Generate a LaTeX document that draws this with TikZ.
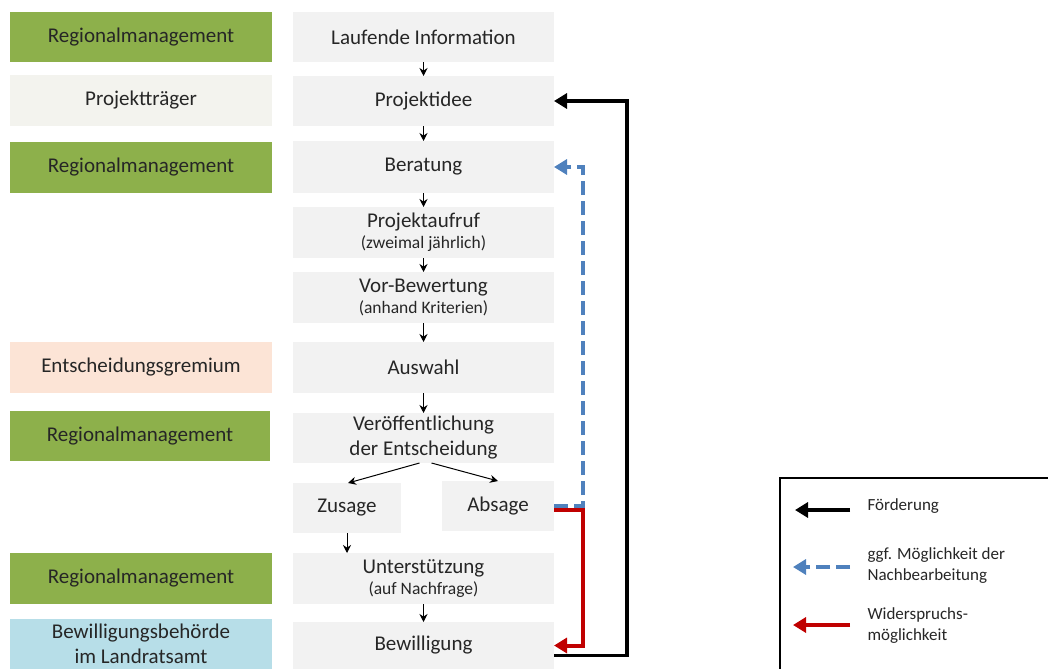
\documentclass[tikz,border=0pt]{standalone}
\usepackage{fontspec}
\setmainfont{Carlito}
\usetikzlibrary{arrows.meta}

\definecolor{rmgreen}{HTML}{8DB04B}
\definecolor{boxgray}{HTML}{F2F2F2}
\definecolor{ptbeige}{HTML}{F3F3EE}
\definecolor{egpeach}{HTML}{FCE4D6}
\definecolor{lrblue}{HTML}{B7DEE8}
\definecolor{textdark}{HTML}{262626}
\definecolor{nachblue}{HTML}{4F81BD}
\definecolor{widerred}{HTML}{C00000}

\newcommand{\klein}[1]{{\fontsize{17.5}{20}\selectfont #1}}

\begin{document}
\begin{tikzpicture}[
  x = 1pt, y = -1pt,
  box/.style = {fill = boxgray, minimum width = 261pt, minimum height = 50pt,
                inner sep = 0pt, outer sep = 0pt, align = center, text = textdark,
                font = \fontsize{21}{25}\selectfont},
  role/.style = {box, minimum width = 262pt},
  legend/.style = {anchor = west, align = left, text = textdark,
                   font = \fontsize{17}{21}\selectfont},
  flow/.style = {-{Stealth[length = 8pt, width = 8pt]}, line width = 1pt},
  foerd/.style = {-{Triangle[length = 13pt, width = 15pt]}, line width = 3.5pt},
  nachb/.style = {-{Triangle[length = 13pt, width = 15pt]}, line width = 4pt,
                  nachblue, dash pattern = on 14pt off 6pt},
  wider/.style = {-{Triangle[length = 13pt, width = 15pt]}, line width = 4pt, widerred},
  ]
  \useasboundingbox (0,0) rectangle (1048,669);

  \node[role, fill = rmgreen, minimum height = 50pt] (rm1) at (141,37) {Regionalmanagement};
  \node[role, fill = ptbeige, minimum height = 51pt] (pt) at (141,100.5) {Projektträger};
  \node[role, fill = rmgreen, minimum height = 51pt] (rm2) at (141,167.5) {Regionalmanagement};
  \node[role, fill = egpeach, minimum height = 51pt] (eg) at (141,367.5) {Entscheidungsgremium};
  \node[role, fill = rmgreen, minimum width = 260pt] (rm3) at (140,436) {Regionalmanagement};
  \node[role, fill = rmgreen, minimum height = 51pt] (rm4) at (141,578.5) {Regionalmanagement};
  \node[role, fill = lrblue] (bb) at (141,644) {Bewilligungsbehörde\\im Landratsamt};

  \node[box] (info) at (423.5,37) {Laufende Information};
  \node[box] (idee) at (423.5,101) {Projektidee};
  \node[box, minimum height = 52pt] (beratung) at (423.5,167) {Beratung};
  \node[box, minimum height = 51pt] (aufruf) at (423.5,232.5) {Projektaufruf\\[-4pt]\klein{(zweimal jährlich)}};
  \node[box, minimum height = 51pt] (vorbew) at (423.5,297.5) {Vor-Bewertung\\[-4pt]\klein{(anhand Kriterien)}};
  \node[box, minimum height = 51pt] (auswahl) at (423.5,367.5) {Auswahl};
  \node[box] (veroeff) at (423.5,438) {Veröffentlichung\\der Entscheidung};
  \node[box, minimum width = 108pt] (zusage) at (347,508) {Zusage};
  \node[box, minimum width = 112pt] (absage) at (498,506) {Absage};
  \node[box, minimum height = 51pt] (unterst) at (423.5,578.5) {Unterstützung\\[-4pt]\klein{(auf Nachfrage)}};
  \node[box, minimum height = 47pt] (bewill) at (423.5,645.5) {Bewilligung};

  \draw[flow] (info) -- (idee);
  \draw[flow] (idee) -- (beratung);
  \draw[flow] (beratung) -- (aufruf);
  \draw[flow] (aufruf) -- (vorbew);
  \draw[flow] (vorbew) -- (auswahl);
  \draw[flow] (auswahl) -- (veroeff);
  \draw[flow] ([xshift = -4pt]veroeff.south) -- ([xshift = 1pt]zusage.north);
  \draw[flow] ([xshift = 8pt]veroeff.south) -- (absage.north);
  \draw[flow] (zusage.south) -- (zusage.south |- unterst.north);
  \draw[flow] (unterst) -- (bewill);

  \draw[wider] ([yshift = -4pt]absage.east) -- ++(29,0) |- (bewill.east);
  \draw[nachb] (absage.east) -- ++(29,0) |- (beratung.east);
  \draw[foerd] ([yshift = -10pt]bewill.east) -- ++(73,0) |- (idee.east);

  \draw[line width = 1.2pt] (1048,478) -- (780,478) -- (780,669);
  \coordinate (fa) at (850,510);
  \coordinate (fb) at (795,510);
  \coordinate (na) at (850,567);
  \coordinate (nb) at (793,567);
  \coordinate (wa) at (850,625);
  \coordinate (wb) at (793,625);
  \draw[foerd] (fa) -- (fb);
  \draw[nachb] (na) -- (nb);
  \draw[wider] (wa) -- (wb);
  \node[legend] (lf) at (864,506) {Förderung};
  \node[legend] (ln) at (864,566) {ggf. Möglichkeit der\\Nachbearbeitung};
  \node[legend] (lw) at (864,626) {Widerspruchs-\\möglichkeit};
\end{tikzpicture}
\end{document}
